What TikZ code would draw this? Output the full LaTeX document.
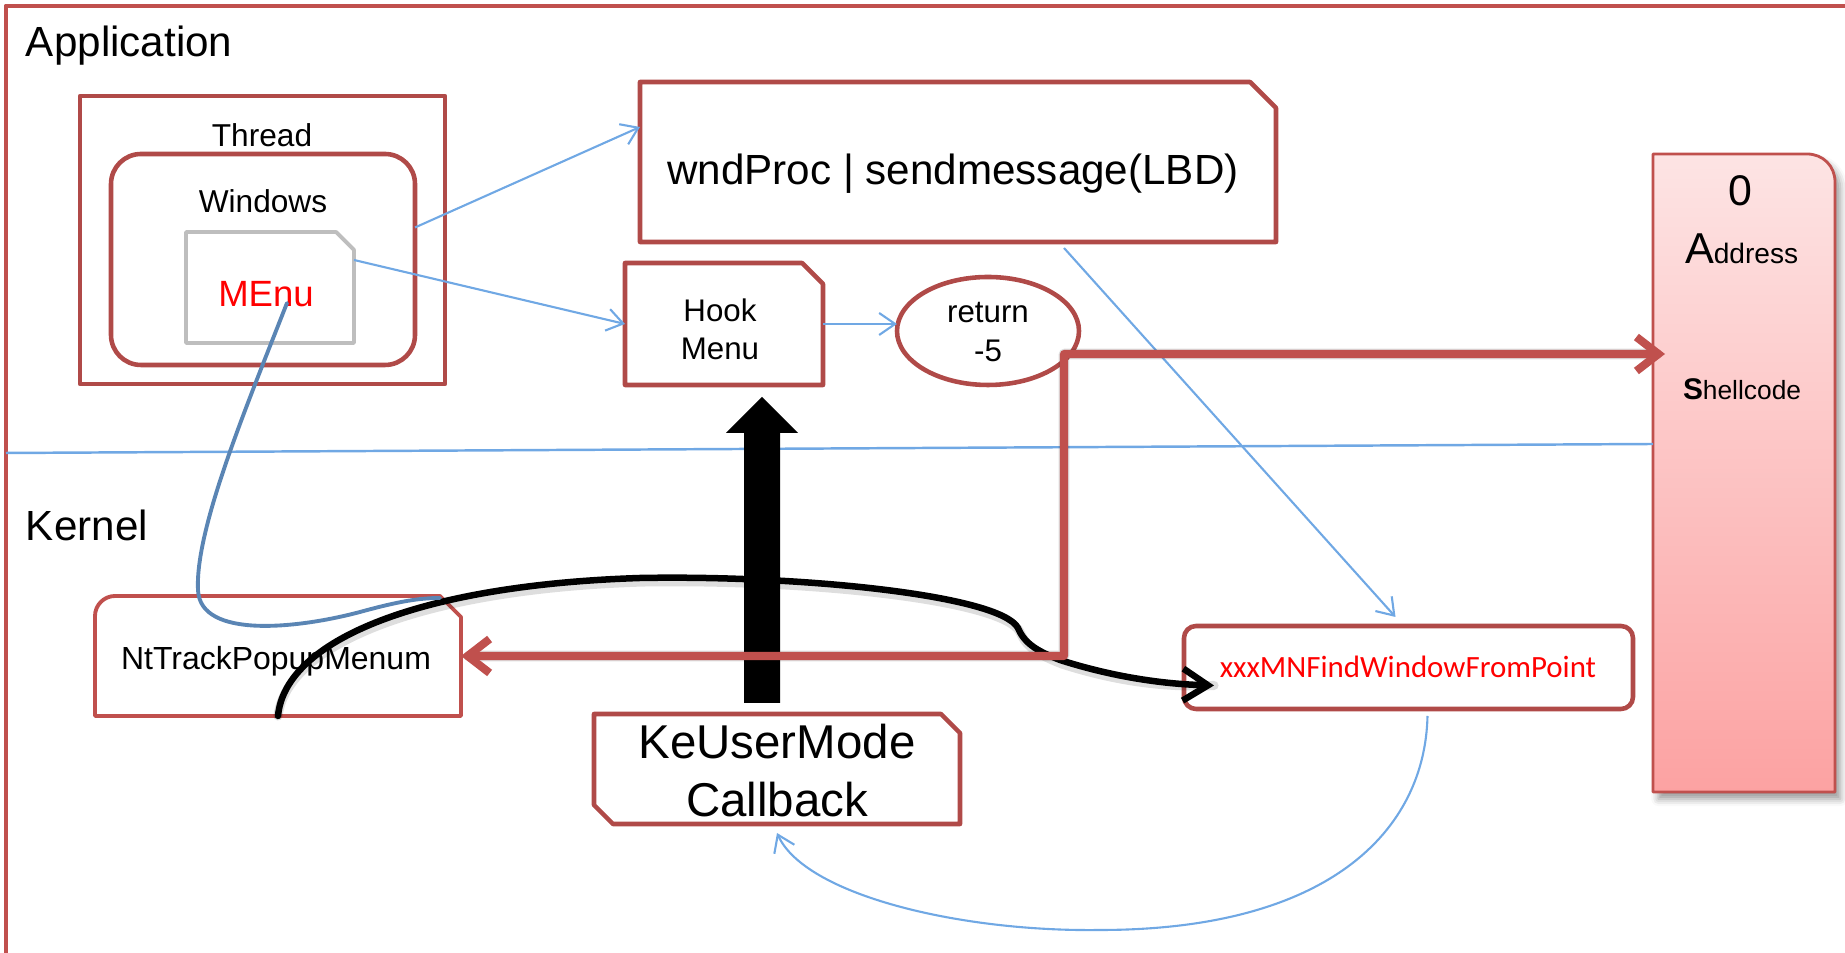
\documentclass[tikz,border=0pt]{standalone}
\usepackage{fontspec}
\setmainfont{Liberation Sans}
\newfontfamily\calibrifont{Carlito}
\usetikzlibrary{arrows.meta,calc,shapes.geometric,shadows.blur}

\definecolor{boxred}{RGB}{176,74,72}
\definecolor{midred}{RGB}{192,80,77}
\definecolor{linkblue}{RGB}{112,168,228}
\definecolor{steelblue}{RGB}{90,133,180}
\definecolor{menugray}{RGB}{190,190,190}
\definecolor{pinktop}{RGB}{253,228,228}
\definecolor{pinkbot}{RGB}{252,162,162}

\begin{document}
\begin{tikzpicture}[x=0.1mm, y=-0.1mm, line join=round,
  holder/.style={inner sep=0pt, outer sep=0pt, draw=none},
  boxline/.style={draw=boxred, line width=1.3pt},
  thinlink/.style={draw=linkblue, line width=0.6pt, -{Straight Barb[length=1.6mm,width=2.2mm]}},
  redlink/.style={draw=midred, line width=2.3pt, line cap=round,
    {Straight Barb[length=2.2mm,width=3.4mm]}-{Straight Barb[length=2.2mm,width=3.4mm]}},
  blacklink/.style={draw=black, line width=1.85pt, line cap=round,
    -{Straight Barb[length=2.5mm,width=3.2mm]}},
  softshadow/.style={draw=black, opacity=0.13, line cap=round},
  txt/.style={inner sep=0pt, outer sep=0pt, anchor=base},
]
\useasboundingbox (0,0) rectangle (1845,953);

% outer frame (runs off the right and bottom edges)
\draw[midred, line width=1.4pt] (6,1000) -- (6,6) -- (1900,6);

% address column
\node[holder, minimum width=18.2mm, minimum height=63.8mm] (addr) at (1744,473) {};
\shade[top color=pinktop, bottom color=pinkbot, draw=midred, line width=0.8pt,
  blur shadow={shadow xshift=1.5pt, shadow yshift=-2pt, shadow blur radius=2pt}]
  (addr.south west) -- (addr.north west) -- ($(addr.north east)+(-28,0)$)
  .. controls ($(addr.north east)+(-12,0)$) and ($(addr.north east)+(0,12)$) .. ($(addr.north east)+(0,28)$)
  -- (addr.south east) -- cycle;

% user / kernel divider
\coordinate (divL) at (6,453);
\draw[linkblue, line width=0.7pt] (divL) -- ($(addr.north west)+(0,290)$);

% labels of the two regions
\node[txt, anchor=base west, font=\fontsize{12}{14}\selectfont] (applbl) at (26,57) {Application};
\node[txt, anchor=base west, font=\fontsize{12}{14}\selectfont] (kerlbl) at (26,541) {Kernel};

% thread / windows / menu
\node[boxline, inner sep=0, outer sep=0, minimum width=36.5mm, minimum height=28.8mm] (thr) at (262.5,240) {};
\node[txt, font=\fontsize{9}{11}\selectfont] (thrlbl) at (262,147) {Thread};
\node[boxline, rounded corners=3mm, inner sep=0, outer sep=0, minimum width=30.4mm, minimum height=21.1mm] (win) at (263,259.5) {};
\node[txt, font=\fontsize{9}{11}\selectfont] (winlbl) at (263,213) {Windows};
\node[holder, minimum width=16.8mm, minimum height=11.1mm] (menu) at (270,287.5) {};
\draw[menugray, line width=1.1pt]
  (menu.south west) -- (menu.north west) -- ($(menu.north east)+(-18,0)$) -- ($(menu.north east)+(0,18)$) -- (menu.south east) -- cycle;
\node[txt, font=\fontsize{10.4}{12}\selectfont, text=red] (menulbl) at (266,307) {MEnu};

% wndProc box
\node[holder, minimum width=63.6mm, minimum height=16mm] (wnd) at (958,162) {};
\draw[boxline] (wnd.south west) -- (wnd.north west) -- ($(wnd.north east)+(-26,0)$) -- ($(wnd.north east)+(0,26)$) -- (wnd.south east) -- cycle;
\node[txt, font=\fontsize{12}{14}\selectfont] (wndlbl) at (953,185) {wndProc | sendmessage(LBD)};

% hook menu box
\node[holder, minimum width=19.8mm, minimum height=12.2mm] (hook) at (724,324) {};
\draw[boxline] (hook.south west) -- (hook.north west) -- ($(hook.north east)+(-21,0)$) -- ($(hook.north east)+(0,21)$) -- (hook.south east) -- cycle;
\node[inner sep=0pt, align=center, font=\fontsize{8.9}{10.8}\selectfont] (hooklbl) at (720,329) {Hook\\Menu};

% return value
\node[ellipse, boxline, inner sep=0, outer sep=0, minimum width=18.2mm, minimum height=10.8mm] (ret) at (988,331) {};
\node[inner sep=0pt, align=center, font=\fontsize{8.9}{11}\selectfont] (retlbl) at (988,332) {return\\-5};

% kernel side boxes
\node[holder, minimum width=36.6mm, minimum height=12mm] (nt) at (278,656) {};
\draw[midred, line width=1.1pt] (nt.south west) -- ($(nt.north west)+(0,20)$)
  .. controls ($(nt.north west)+(0,9)$) and ($(nt.north west)+(9,0)$) .. ($(nt.north west)+(20,0)$)
  -- ($(nt.north east)+(-21,0)$) -- ($(nt.north east)+(0,21)$) -- (nt.south east) -- cycle;
\node[txt, font=\fontsize{9.1}{10}\selectfont] (ntlbl) at (276,670) {NtTrackPopupMenum};

\node[holder, minimum width=36.6mm, minimum height=11mm] (ke) at (777,769) {};
\draw[boxline] ($(ke.south west)+(19,0)$) -- ($(ke.south west)+(0,-19)$) -- (ke.north west)
  -- ($(ke.north east)+(-19,0)$) -- ($(ke.north east)+(0,19)$) -- (ke.south east) -- cycle;
\node[inner sep=0pt, align=center, font=\fontsize{13.5}{16.5}\selectfont] (kelbl) at (777,771) {KeUserMode\\Callback};

\node[boxline, rounded corners=1.2mm, inner sep=0, outer sep=0, minimum width=44.9mm, minimum height=8.3mm] (xm) at (1408.5,667.5) {};
\node[txt, font=\calibrifont\fontsize{8.8}{10}\selectfont, text=red] (xmlbl) at (1408,678) {xxxMNFindWindowFromPoint};

% address column texts
\node[txt, font=\fontsize{12.2}{14}\selectfont] (zero) at (1740,206) {0};
\node[txt, anchor=base west] (addrlbl) at (1685,264) {{\fontsize{12.3}{14}\selectfont A}{\fontsize{8}{10}\selectfont ddress}};
\node[txt, anchor=base west] (shlbl) at (1683,400) {{\fontsize{8.5}{10}\selectfont\bfseries S}{\fontsize{7.5}{9}\selectfont hellcode}};

% thin blue links
\draw[thinlink] ($(win.east)+(0,-32)$) -- ($(wnd.west)+(0,-35)$);
\draw[thinlink] ($(menu.north east)+(0,28)$) -- (hook.west);
\draw[thinlink] (hook.east) -- (hook.east -| ret.west);
\draw[thinlink] ($(wnd.south)+(106,6)$) -- ($(xm.north)+(-13,-9)$);
\draw[thinlink] ($(xm.south)+(19,7)$) .. controls (1425,830) and (1330,930) .. (1100,930)
  .. controls (960,932) and (805,895) .. ($(ke.south)+(0,9)$);

% callback into user mode: a block arrow
\coordinate (upBase) at (762,703);
\coordinate (upTip) at (762,397);
\fill[black] ($(upBase)+(-18,0)$) -- ($(upBase)+(-18,-270)$) -- ($(upBase)+(-36,-270)$) -- (upTip)
  -- ($(upBase)+(36,-270)$) -- ($(upBase)+(18,-270)$) -- ($(upBase)+(18,0)$) -- cycle;

% flow from NtTrackPopupMenum to xxxMNFindWindowFromPoint
\coordinate (blackEnd) at ($(xm.west)+(30,18)$);
\draw[softshadow, line width=2.6pt, shift={(2,4)}] (nt.south) .. controls (285,640) and (420,585) .. (640,578)
  .. controls (800,575) and (1000,595) .. (1018,628)
  .. controls (1025,645) and (1040,652) .. (1060,660)
  .. controls (1110,676) and (1160,684) .. (blackEnd);
\draw[blacklink] (nt.south) .. controls (285,640) and (420,585) .. (640,578)
  .. controls (800,575) and (1000,595) .. (1018,628)
  .. controls (1025,645) and (1040,652) .. (1060,660)
  .. controls (1110,676) and (1160,684) .. (blackEnd);

% return path to the shellcode
\coordinate (elbow) at (1064,354);
\coordinate (rtip) at ($(addr.north west)+(12,200)$);
\draw[softshadow, line width=3pt, shift={(2,4)}] ($(nt.east)+(8,0)$) -- (nt.east -| elbow) -- (elbow) -- ($(rtip)+(-8,0)$);
\draw[redlink] (nt.east) -- (nt.east -| elbow) -- (elbow) -- (rtip);

% menu object handed to the kernel
\coordinate (menuSrc) at (287,303);
\draw[steelblue, line width=1.1pt, line cap=round] (menuSrc) .. controls (245,410) and (195,530) .. (198,590)
  .. controls (200,640) and (300,628) .. (360,612)
  .. controls (400,601) and (420,598) .. ($(nt.north east)+(-21,2)$);
\end{tikzpicture}
\end{document}
